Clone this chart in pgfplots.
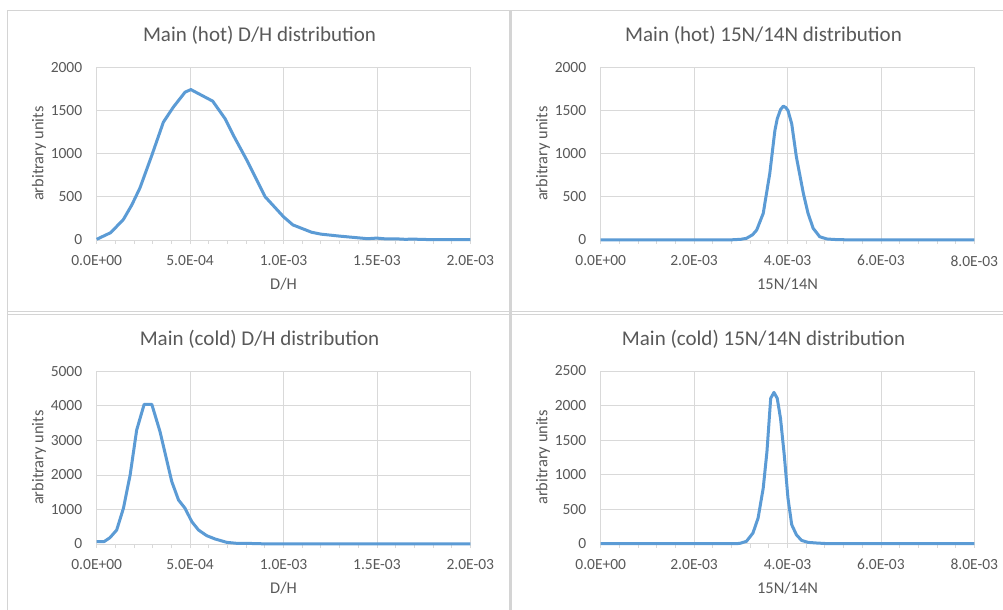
\documentclass[border=0pt]{standalone}
\usepackage{fontspec}
\setmainfont{Carlito}
\usepackage{pgfplots}
\pgfplotsset{compat=1.18}
\definecolor{gridc}{HTML}{D9D9D9}
\definecolor{txt}{HTML}{595959}
\definecolor{serie}{HTML}{5B9BD5}
\definecolor{border}{HTML}{D4D4D4}
\pgfplotsset{
  xl/.style={
    scale only axis, width=373.6bp, height=172.7bp,
    axis line style={draw=gridc, line width=0.75bp},
    grid=major, major grid style={draw=gridc, line width=0.75bp},
    tick align=outside, major tick length=4bp, minor tick length=4bp,
    xtick style={draw=gridc, line width=0.75bp},
    minor x tick style={draw=gridc, line width=0.75bp},
    ytick style={draw=none},
    xtick pos=left,
    minor x tick num=4,
    ticklabel style={font=\fontsize{15.5bp}{18bp}\selectfont, text=txt},
    xticklabel style={yshift=-8bp},
    yticklabel style={xshift=-7bp},
    label style={font=\fontsize{16.4bp}{19bp}\selectfont, text=txt},
    title style={font=\fontsize{21bp}{25bp}\selectfont, text=txt, at={(axis description cs:0.4358,1.148)}, anchor=center},
    xlabel style={at={(axis description cs:0.5,-0.2548)}, anchor=center},
    ylabel style={at={(axis description cs:-0.1545,0.5)}, anchor=center},
    ylabel={arbitrary units},
    scaled ticks=false,
    /pgf/number format/1000 sep={},
    /pgf/number format/assume math mode=true,
    clip=false,
    anchor=south west,
  },
  sty/.style={draw=serie, line width=3bp, line join=round, no marks},
}
\begin{document}
\begin{tikzpicture}
\useasboundingbox (0bp,0bp) rectangle (1003bp,610bp);
\fill[white] (0bp,0bp) rectangle (1003bp,610bp);
\draw[border, line width=1bp] (7bp,0bp) -- (7bp,599.5bp) -- (1003bp,599.5bp);
\draw[border, line width=3bp] (510.5bp,0bp) -- (510.5bp,599.5bp);
\draw[border, line width=1bp] (7bp,298bp) -- (1003bp,298bp);
\draw[border, line width=1bp] (7bp,295.5bp) -- (1003bp,295.5bp);

% Panel 1: hot D/H
\begin{axis}[xl, at={(96.7bp,370bp)},
  title={Main (hot) D/H distribution}, xlabel={D/H},
  xmin=0, xmax=0.002, ymin=0, ymax=2000,
  xtick={0,0.0005,0.001,0.0015,0.002},
  xticklabels={0.0E+00,5.0E-04,1.0E-03,1.5E-03,2.0E-03},
  ytick={0,500,1000,1500,2000}]
\addplot[sty] coordinates {
(0,8) (0.000075,85) (0.000143,238) (0.0001875,404) (0.000232,605) (0.000295,980)
(0.000357,1365) (0.00041,1538) (0.000473,1712) (0.000504,1742) (0.000621,1608)
(0.0006875,1404) (0.000732,1211) (0.000804,923) (0.000902,500) (0.001,269)
(0.00105,175) (0.00115,90) (0.0012,68) (0.0013,45) (0.0014,25) (0.00145,15)
(0.0015,22) (0.00155,12) (0.0016,14) (0.00165,8) (0.0017,10) (0.00175,6)
(0.0018,5) (0.0019,4) (0.002,3)};
\end{axis}

% Panel 2: hot 15N/14N
\begin{axis}[xl, at={(600.7bp,370bp)},
  title={Main (hot) 15N/14N distribution}, xlabel={15N/14N},
  xmin=0, xmax=0.008, ymin=0, ymax=2000,
  xtick={0,0.002,0.004,0.006,0.008},
  xticklabels={0.0E+00,2.0E-03,4.0E-03,6.0E-03,8.0E-03},
  ytick={0,500,1000,1500,2000}]
\addplot[sty] coordinates {
(0,0) (0.0028,2) (0.003,8) (0.00312,19) (0.00325,60) (0.00334,115) (0.00348,308)
(0.00362,769) (0.00373,1269) (0.00378,1404) (0.00385,1510) (0.00391,1550)
(0.00396,1535) (0.00401,1500) (0.00409,1346) (0.00419,962) (0.00434,538)
(0.00444,308) (0.00455,135) (0.00469,38) (0.00484,12) (0.005,6) (0.0052,3)
(0.0054,0) (0.008,0)};
\end{axis}

% Panel 3: cold D/H
\begin{axis}[xl, at={(96.7bp,66bp)},
  title={Main (cold) D/H distribution}, xlabel={D/H},
  xmin=0, xmax=0.002, ymin=0, ymax=5000,
  xtick={0,0.0005,0.001,0.0015,0.002},
  xticklabels={0.0E+00,5.0E-04,1.0E-03,1.5E-03,2.0E-03},
  ytick={0,1000,2000,3000,4000,5000}]
\addplot[sty] coordinates {
(0,68) (0.000039,68) (0.000071,183) (0.000107,405) (0.000143,1033) (0.000179,1998)
(0.000214,3300) (0.000254,4043) (0.000295,4043) (0.000339,3252) (0.000402,1805)
(0.000438,1274) (0.000473,1033) (0.000509,647) (0.000545,405) (0.000589,241)
(0.000634,145) (0.000696,48) (0.00075,19) (0.000804,19) (0.000857,10) (0.0009,5)
(0.001,3) (0.0015,1) (0.002,0)};
\end{axis}

% Panel 4: cold 15N/14N
\begin{axis}[xl, at={(600.7bp,66.3bp)},
  title={Main (cold) 15N/14N distribution}, xlabel={15N/14N},
  xmin=0, xmax=0.008, ymin=0, ymax=2500,
  xtick={0,0.002,0.004,0.006,0.008},
  xticklabels={0.0E+00,2.0E-03,4.0E-03,6.0E-03,8.0E-03},
  ytick={0,500,1000,1500,2000,2500}]
\addplot[sty] coordinates {
(0,0) (0.0029,0) (0.00298,5) (0.00312,34) (0.00326,154) (0.00337,371) (0.00348,804)
(0.00356,1334) (0.00364,2105) (0.00371,2190) (0.00378,2105) (0.00385,1816)
(0.00393,1286) (0.00401,660) (0.00409,275) (0.00419,130) (0.0043,48) (0.00444,19)
(0.00462,10) (0.0048,3) (0.005,0) (0.008,0)};
\end{axis}
\end{tikzpicture}
\end{document}
